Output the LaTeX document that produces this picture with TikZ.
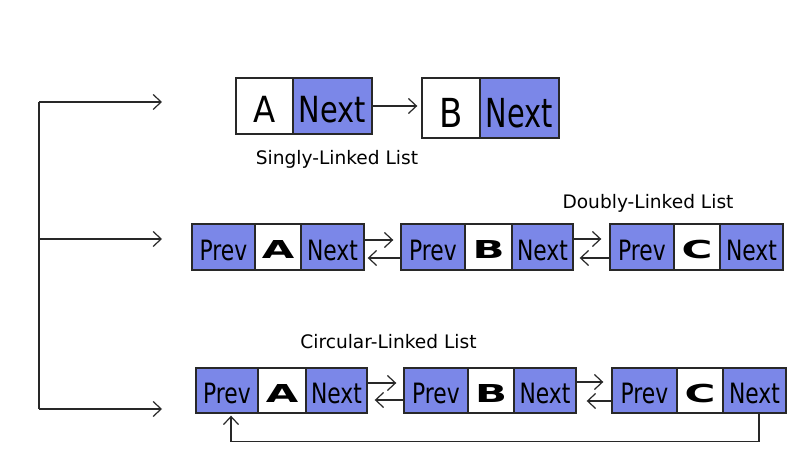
\documentclass[tikz,border=0pt]{standalone}
\usepackage{fontspec}
\setmainfont{DejaVu Sans}
\usetikzlibrary{arrows.meta,calc}
\definecolor{cellblue}{RGB}{123,135,232}
\definecolor{edgecol}{RGB}{40,40,40}
\newcommand{\sx}[2]{\scalebox{#1}[1]{#2}}
\begin{document}
\begin{tikzpicture}[x=1pt,y=-1pt,
 cellbase/.style={draw=edgecol,line width=1.4pt,inner sep=0pt,anchor=center},
 bluecell/.style={cellbase,fill=cellblue},
 whitecell/.style={cellbase,fill=white},
 arr/.style={draw=edgecol,line width=1.2pt,-{Straight Barb[length=8pt,width=15pt]}},
 ln/.style={draw=edgecol,line width=1.2pt},
 lbl/.style={anchor=base,font=\fontsize{18.6}{20}\selectfont,inner sep=0pt},
 big/.style={font=\fontsize{36}{40}\selectfont,text height=32.2pt,text depth=0pt},
 bigger/.style={font=\fontsize{40}{44}\selectfont,text height=38.2pt,text depth=0pt},
 med/.style={font=\fontsize{28}{30}\selectfont,text height=26.4pt,text depth=0pt},
 wide/.style={font=\fontsize{24.7}{28}\selectfont\bfseries,text height=24pt,text depth=0pt},
 rowtwo/.style={minimum height=46pt},
 rowthree/.style={minimum height=45pt}]
\useasboundingbox[fill=white] (0,0) rectangle (809,454);

% Row 1: singly linked
\node[whitecell,big,minimum width=57pt,minimum height=56pt] (sA) at (264.5,106) {\sx{0.9}{A}};
\node[bluecell,big,minimum width=79pt,minimum height=56pt] (sAn) at (332.5,106) {\sx{0.8}{Next}};
\node[whitecell,bigger,minimum width=58pt,minimum height=60pt] (sB) at (451,108) {\sx{0.85}{B}};
\node[bluecell,bigger,minimum width=79pt,minimum height=60pt] (sBn) at (519.5,108) {\sx{0.72}{Next}};
\draw[arr,shorten >=4pt] (sAn.east) -- (sAn.east -| sB.west);
\node[lbl] (l1) at (337,165) {Singly-Linked List};

% Row 2: doubly linked
\node[bluecell,med,rowtwo,minimum width=63pt] (ap) at (223.5,247) {\sx{0.78}{Prev}};
\node[whitecell,wide,rowtwo,minimum width=46pt] (aa) at (278,247) {\sx{1.7}{A}};
\node[bluecell,med,rowtwo,minimum width=63pt] (an) at (332.5,247) {\sx{0.78}{Next}};
\node[bluecell,med,rowtwo,minimum width=64pt] (bp) at (433,247) {\sx{0.78}{Prev}};
\node[whitecell,wide,rowtwo,minimum width=47pt] (bb) at (488.5,247) {\sx{1.7}{B}};
\node[bluecell,med,rowtwo,minimum width=61pt] (bn) at (542.5,247) {\sx{0.78}{Next}};
\node[bluecell,med,rowtwo,minimum width=64pt] (cp) at (642,247) {\sx{0.78}{Prev}};
\node[whitecell,wide,rowtwo,minimum width=46pt] (cc) at (697,247) {\sx{1.7}{C}};
\node[bluecell,med,rowtwo,minimum width=63pt] (cn) at (751.5,247) {\sx{0.78}{Next}};
\draw[arr,shorten >=7pt] ($(an.east)+(0,-7)$) -- ($(bp.west)+(0,-7)$);
\draw[arr,shorten >=3pt] ($(bp.west)+(0,11)$) -- ($(an.east)+(0,11)$);
\draw[arr,shorten >=8pt] ($(bn.east)+(0,-8)$) -- ($(cp.west)+(0,-8)$);
\draw[arr,shorten >=6pt] ($(cp.west)+(0,11)$) -- ($(bn.east)+(0,11)$);
\node[lbl] (l2) at (648,209) {Doubly-Linked List};

% Row 3: circular linked
\node[bluecell,med,rowthree,minimum width=62pt] (ap3) at (227,390.5) {\sx{0.78}{Prev}};
\node[whitecell,wide,rowthree,minimum width=48pt] (aa3) at (282,390.5) {\sx{1.7}{A}};
\node[bluecell,med,rowthree,minimum width=61pt] (an3) at (336.5,390.5) {\sx{0.78}{Next}};
\node[bluecell,med,rowthree,minimum width=64pt] (bp3) at (436,390.5) {\sx{0.78}{Prev}};
\node[whitecell,wide,rowthree,minimum width=46pt] (bb3) at (491,390.5) {\sx{1.7}{B}};
\node[bluecell,med,rowthree,minimum width=62pt] (bn3) at (545,390.5) {\sx{0.78}{Next}};
\node[bluecell,med,rowthree,minimum width=65pt] (cp3) at (644.5,390.5) {\sx{0.78}{Prev}};
\node[whitecell,wide,rowthree,minimum width=46pt] (cc3) at (700,390.5) {\sx{1.7}{C}};
\node[bluecell,med,rowthree,minimum width=63pt] (cn3) at (754.5,390.5) {\sx{0.78}{Next}};
\draw[arr,shorten >=7pt] ($(an3.east)+(0,-7.5)$) -- ($(bp3.west)+(0,-7.5)$);
\draw[arr,shorten >=7pt] ($(bp3.west)+(0,9.5)$) -- ($(an3.east)+(0,9.5)$);
\draw[arr,shorten >=8pt] ($(bn3.east)+(0,-8.5)$) -- ($(cp3.west)+(0,-8.5)$);
\draw[arr,shorten >=10pt] ($(cp3.west)+(0,10.5)$) -- ($(bn3.east)+(0,10.5)$);
\draw[arr,shorten >=2pt] ($(cn3.south)+(4.5,0)$) -- ++(0,28) -| ($(ap3.south)+(4,0)$);
\node[lbl] (l3) at (388.5,348.7) {Circular-Linked List};

% Left bracket
\coordinate (b1) at (39,102);
\coordinate (b2) at (39,239);
\coordinate (b3) at (39,409);
\coordinate (e1) at (162,102);
\coordinate (e2) at (162,239);
\coordinate (e3) at (162,409);
\draw[ln] (b1) -- (b3);
\draw[arr] (b1) -- (e1);
\draw[arr] (b2) -- (e2);
\draw[arr] (b3) -- (e3);
\end{tikzpicture}
\end{document}
